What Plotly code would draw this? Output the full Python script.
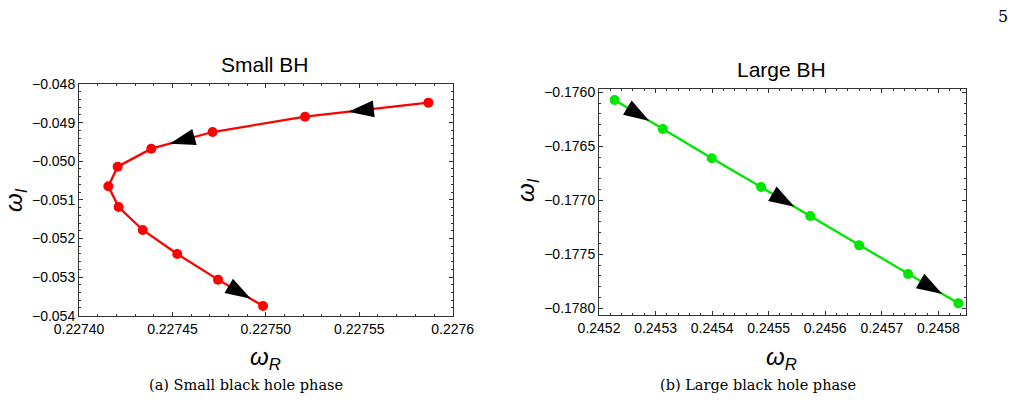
import math
import plotly.graph_objects as go

W, H = 1016, 400

# ---------------- data ----------------
small_wR = [0.227587, 0.227521, 0.2274715, 0.2274387, 0.2274207, 0.2274157,
            0.2274212, 0.2274341, 0.2274526, 0.2274744, 0.2274985]
small_wI = [-0.048483, -0.048846, -0.049243, -0.049675, -0.050141, -0.050650,
            -0.051185, -0.051780, -0.052402, -0.053066, -0.053748]
small_arrow_seg = [0, 2, 9]
small_arrow_frac = [0.65, 0.70, 0.73]

large_wR = [0.2452276, 0.2453129, 0.2453994, 0.2454865, 0.2455735, 0.2456600,
            0.2457465, 0.2458353]
large_wI = [-0.176071, -0.176340, -0.176611, -0.176877, -0.177145, -0.177417,
            -0.177682, -0.177954]
large_arrow_seg = [0, 3, 6]
large_arrow_frac = [0.72, 0.68, 0.68]

small_x_ticks = [0.22740, 0.22745, 0.22750, 0.22755, 0.22760]
small_x_labels = ["0.22740", "0.22745", "0.22750", "0.22755", "0.2276"]
small_y_ticks = [-0.048, -0.049, -0.050, -0.051, -0.052, -0.053, -0.054]
small_y_labels = ["\u22120.048", "\u22120.049", "\u22120.050", "\u22120.051",
                  "\u22120.052", "\u22120.053", "\u22120.054"]
large_x_ticks = [0.2452, 0.2453, 0.2454, 0.2455, 0.2456, 0.2457, 0.2458]
large_x_labels = ["0.2452", "0.2453", "0.2454", "0.2455", "0.2456", "0.2457", "0.2458"]
large_y_ticks = [-0.1760, -0.1765, -0.1770, -0.1775, -0.1780]
large_y_labels = ["\u22120.1760", "\u22120.1765", "\u22120.1770", "\u22120.1775", "\u22120.1780"]

# ---------------- layout geometry ----------------
L_BOX = (79, 452.7, 84, 315.7)      # x0, x1, y0(top), y1(bottom) in px
R_BOX = (599, 965.5, 89, 315)
L_XR = [0.22740, 0.22760]
L_YR = [-0.054, -0.048]
R_XR = [0.24520, 0.245848]
R_YR = [-0.178062, -0.175969]

SANS = "Liberation Sans, Arial, sans-serif"
SERIF = "DejaVu Serif, Liberation Serif, serif"
FRAME = "#333333"


def xdom(box):
    return [box[0] / W, box[1] / W]


def ydom(box):
    return [1 - box[3] / H, 1 - box[2] / H]


def arrows(xs, ys, segs, fracs, xr, yr, box):
    sx = (box[1] - box[0]) / (xr[1] - xr[0])
    sy = (box[3] - box[2]) / (yr[1] - yr[0])
    ax, ay, ang = [], [], []
    for s, f in zip(segs, fracs):
        x0, y0, x1, y1 = xs[s], ys[s], xs[s + 1], ys[s + 1]
        ax.append(x0 + f * (x1 - x0))
        ay.append(y0 + f * (y1 - y0))
        ang.append(math.degrees(math.atan2((x1 - x0) * sx, (y1 - y0) * sy)))
    return ax, ay, ang


def axis(box, horiz, rng, tv, tt, mdt, m0, anchor):
    d = dict(
        domain=xdom(box) if horiz else ydom(box),
        range=rng, anchor=anchor, automargin=False,
        tickmode="array", tickvals=tv, ticktext=tt,
        ticks="inside", ticklen=4, tickwidth=1, tickcolor=FRAME,
        showline=True, linecolor=FRAME, linewidth=1, mirror="allticks",
        showgrid=False, zeroline=False,
        tickfont=dict(family=SANS, size=14, color="black"),
        minor=dict(ticks="inside", ticklen=2, tickwidth=1, tickcolor=FRAME,
                   tickmode="linear", tick0=m0, dtick=mdt, showgrid=False),
    )
    return d


fig = go.Figure()

fig.add_trace(go.Scatter(
    x=small_wR, y=small_wI, mode="lines+markers", xaxis="x", yaxis="y",
    line=dict(color="#ff0000", width=2.3), marker=dict(color="#ff0000", size=10),
    showlegend=False, hoverinfo="skip"))
sax, say, sang = arrows(small_wR, small_wI, small_arrow_seg, small_arrow_frac, L_XR, L_YR, L_BOX)
fig.add_trace(go.Scatter(
    x=sax, y=say, mode="markers", xaxis="x", yaxis="y",
    marker=dict(symbol="arrow", size=27, angle=sang, color="black", line=dict(width=0)),
    showlegend=False, hoverinfo="skip"))

fig.add_trace(go.Scatter(
    x=large_wR, y=large_wI, mode="lines+markers", xaxis="x2", yaxis="y2",
    line=dict(color="#00e600", width=2.3), marker=dict(color="#00e600", size=10),
    showlegend=False, hoverinfo="skip"))
lax, lay, lang = arrows(large_wR, large_wI, large_arrow_seg, large_arrow_frac, R_XR, R_YR, R_BOX)
fig.add_trace(go.Scatter(
    x=lax, y=lay, mode="markers", xaxis="x2", yaxis="y2",
    marker=dict(symbol="arrow", size=27, angle=lang, color="black", line=dict(width=0)),
    showlegend=False, hoverinfo="skip"))


def ann(text, px, py, size, family=SANS, angle=0):
    return dict(text=text, x=px / W, y=1 - py / H, xref="paper", yref="paper",
                xanchor="center", yanchor="middle", showarrow=False,
                textangle=angle, font=dict(family=family, size=size, color="black"))


annotations = [
    ann("Small BH", 265, 65, 21),
    ann("Large BH", 781, 69, 21),
    ann("<i>ω</i><sub><i>R</i></sub>", 265, 358, 24),
    ann("<i>ω</i><sub><i>R</i></sub>", 781, 358, 24),
    ann("<i>ω</i><sub><i>I</i></sub>", 15, 200, 24, angle=-90),
    ann("<i>ω</i><sub><i>I</i></sub>", 527, 190, 24, angle=-90),
    ann("(a) Small black hole phase", 246, 385, 14.5, family=SERIF),
    ann("(b) Large black hole phase", 758, 385, 14.5, family=SERIF),
    ann("5", 1003, 16, 16, family=SERIF),
]

fig.update_layout(
    width=W, height=H, autosize=False,
    margin=dict(l=0, r=0, t=0, b=0, pad=0),
    paper_bgcolor="white", plot_bgcolor="white",
    xaxis=axis(L_BOX, True, L_XR, small_x_ticks, small_x_labels, 0.00001, 0.2274, "y"),
    yaxis=axis(L_BOX, False, L_YR, small_y_ticks, small_y_labels, 0.0002, -0.054, "x"),
    xaxis2=axis(R_BOX, True, R_XR, large_x_ticks, large_x_labels, 0.00002, 0.2452, "y2"),
    yaxis2=axis(R_BOX, False, R_YR, large_y_ticks, large_y_labels, 0.0001, -0.178, "x2"),
    annotations=annotations,
)

fig.write_html("out.html")
